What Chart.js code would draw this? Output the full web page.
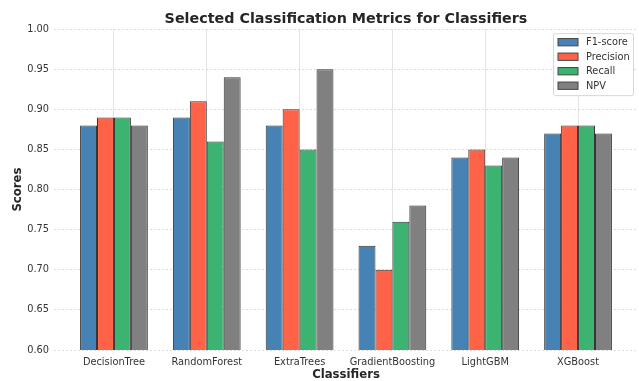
<!DOCTYPE html>
<html>
<head>
<meta charset="utf-8">
<script src="https://cdn.jsdelivr.net/npm/chart.js@4.4.1/dist/chart.umd.min.js"></script>
<style>
  html, body { margin: 0; padding: 0; background: #fff; }
  #wrap { width: 639px; height: 381px; }
</style>
</head>
<body>
<div id="wrap"><canvas id="metricsChart"></canvas></div>
<script>
// data
var classifiers = ['DecisionTree', 'RandomForest', 'ExtraTrees', 'GradientBoosting', 'LightGBM', 'XGBoost'];
var f1Scores  = [0.88, 0.89, 0.88, 0.73, 0.84, 0.87];
var precision = [0.89, 0.91, 0.90, 0.70, 0.85, 0.88];
var recall    = [0.89, 0.86, 0.85, 0.76, 0.83, 0.88];
var npv       = [0.88, 0.94, 0.95, 0.78, 0.84, 0.87];
var scoreTicks = [0.60, 0.65, 0.70, 0.75, 0.80, 0.85, 0.90, 0.95, 1.00];

Chart.defaults.font.family = '"DejaVu Sans", sans-serif';
Chart.defaults.color = '#333';

function toPoints(values) {
    return values.map(function(v, i) { return { x: i, y: v }; });
}

// legend box drawn inside the plot, top right
var boxLegend = {
    id: 'boxLegend',
    afterDraw: function(chart) {
        var ctx = chart.ctx;
        var area = chart.chartArea;
        var w = 80, h = 62;
        var left = area.right - 5 - w, top = area.top + 4;
        ctx.save();
        ctx.fillStyle = 'rgba(255,255,255,0.85)';
        ctx.strokeStyle = '#d6d6d6';
        ctx.lineWidth = 1;
        ctx.beginPath();
        ctx.roundRect(left + 0.5, top + 0.5, w, h, 2);
        ctx.fill();
        ctx.stroke();
        ctx.font = '9.8px "DejaVu Sans"';
        ctx.textBaseline = 'middle';
        chart.data.datasets.forEach(function(ds, i) {
            var cy = top + 9 + i * 14.5;
            ctx.fillStyle = ds.backgroundColor;
            ctx.fillRect(left + 5, cy - 3.6, 20, 7.3);
            ctx.strokeStyle = '#444';
            ctx.strokeRect(left + 5, cy - 3.6, 20, 7.3);
            ctx.fillStyle = '#333';
            ctx.fillText(ds.label, left + 33, cy + 0.5);
        });
        ctx.restore();
    }
};

var ctx = document.getElementById('metricsChart').getContext('2d');

var metricsChart = new Chart(ctx, {
    type: 'bar',
    data: {
        datasets: [
            { label: 'F1-score',  data: toPoints(f1Scores),  backgroundColor: '#4682B4' },
            { label: 'Precision', data: toPoints(precision), backgroundColor: '#FF6347' },
            { label: 'Recall',    data: toPoints(recall),    backgroundColor: '#3CB371' },
            { label: 'NPV',       data: toPoints(npv),       backgroundColor: '#808080' }
        ]
    },
    options: {
        responsive: true,
        maintainAspectRatio: false,
        animation: false,
        layout: {
            padding: { left: 0, right: 1, top: 0, bottom: 0 }
        },
        datasets: {
            bar: {
                categoryPercentage: 0.73,
                barPercentage: 1.0,
                borderColor: '#333',
                borderWidth: 1,
                borderSkipped: false
            }
        },
        plugins: {
            legend: { display: false },
            tooltip: { enabled: false },
            title: {
                display: true,
                fullSize: false,
                text: 'Selected Classification Metrics for Classifiers',
                color: '#262626',
                font: { size: 14.3, weight: 'bold' },
                padding: { top: 11, bottom: 1 }
            }
        },
        scales: {
            x: {
                type: 'linear',
                offset: false,
                min: -0.646,
                max: 5.646,
                afterBuildTicks: function(scale) {
                    scale.ticks = classifiers.map(function(c, i) { return { value: i }; });
                },
                afterFit: function(scale) { scale.height = 31; },
                ticks: {
                    color: '#333',
                    font: { size: 9.8 },
                    padding: 7,
                    maxRotation: 0,
                    autoSkip: false,
                    callback: function(value) { return classifiers[value]; }
                },
                grid: { offset: false, color: '#e3e3e3', lineWidth: 1, drawTicks: false },
                border: { display: false },
                title: {
                    display: true,
                    text: 'Classifiers',
                    color: '#262626',
                    font: { size: 11.7, weight: 'bold', lineHeight: 1.0 },
                    padding: { top: 0, bottom: 0 }
                }
            },
            y: {
                min: 0.6,
                max: 1.0,
                afterBuildTicks: function(scale) {
                    scale.ticks = scoreTicks.map(function(v) { return { value: v }; });
                },
                afterFit: function(scale) { scale.width = 54; },
                ticks: {
                    color: '#333',
                    font: { size: 9.8 },
                    padding: 5,
                    callback: function(value) { return value.toFixed(2); }
                },
                grid: { color: '#d4d4d4', lineWidth: 0.8, drawTicks: false },
                border: { display: false, dash: [2, 2] },
                title: {
                    display: true,
                    text: 'Scores',
                    color: '#262626',
                    font: { size: 11.7, weight: 'bold' },
                    padding: { top: 11, bottom: 0 }
                }
            }
        }
    },
    plugins: [boxLegend]
});
</script>
</body>
</html>
